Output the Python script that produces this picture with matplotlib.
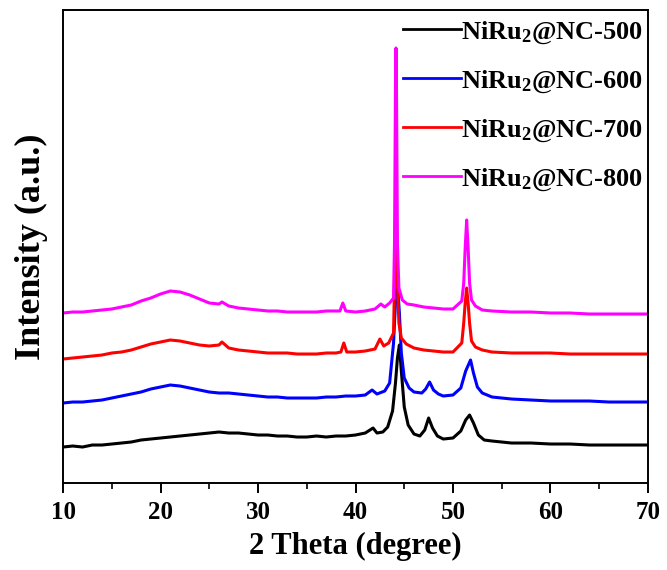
"""XRD patterns of the NiRu2@NC samples (500-800 C), stacked."""
import matplotlib
matplotlib.use("Agg")
import matplotlib.pyplot as plt
from matplotlib.ticker import MultipleLocator

plt.rcParams["font.family"] = ["Liberation Serif", "DejaVu Serif"]
plt.rcParams["font.weight"] = "bold"
plt.rcParams["mathtext.fontset"] = "custom"
plt.rcParams["mathtext.rm"] = "Liberation Serif:bold"
plt.rcParams["mathtext.bf"] = "Liberation Serif:bold"
plt.rcParams["mathtext.it"] = "Liberation Serif:bold"

# 2 theta (deg) / intensity (a.u., curves already offset)
x_500 = [10, 11, 12, 13, 14, 15, 16, 17, 18, 19, 20, 21, 22, 23, 24, 25, 26, 27, 28, 29,
         30, 31, 32, 33, 34, 35, 36, 37, 38, 39, 40, 41, 41.8, 42.2, 42.8, 43.3, 43.8,
         44.1, 44.3, 44.5, 44.7, 45.0, 45.4, 46.0, 46.6, 47.1, 47.5, 47.9, 48.4, 49, 50,
         50.8, 51.3, 51.7, 52.1, 52.6, 53.2, 54, 55, 56, 58, 60, 62, 64, 66, 68, 70]
y_500 = [36, 37, 36, 38, 38, 39, 40, 41, 43, 44, 45, 46, 47, 48, 49, 50, 51, 50, 50, 49,
         48, 48, 47, 47, 46, 46, 47, 46, 47, 47, 48, 50, 55, 50, 51, 56, 72,
         100, 125, 138, 112, 76, 58, 49, 47, 53, 65, 55, 47, 44, 45,
         52, 63, 68, 60, 48, 43, 42, 41, 40, 40, 39, 39, 38, 38, 38, 38]

x_600 = [10, 11, 12, 13, 14, 15, 16, 17, 18, 19, 20, 21, 22, 23, 24, 25, 26, 27, 28, 29,
         30, 31, 32, 33, 34, 35, 36, 37, 38, 39, 40, 41, 41.7, 42.2, 43.0, 43.5, 43.9,
         44.1, 44.3, 44.5, 44.7, 45.0, 45.5, 46, 46.8, 47.2, 47.6, 48.0, 48.5, 49, 50,
         50.8, 51.3, 51.8, 52.1, 52.5, 53, 54, 56, 58, 60, 62, 64, 66, 68, 70]
y_600 = [80, 81, 81, 82, 83, 85, 87, 89, 91, 94, 96, 98, 97, 95, 93, 91, 90, 90, 89, 88,
         87, 86, 86, 85, 85, 85, 85, 86, 86, 87, 87, 88, 93, 89, 92, 100, 140,
         180, 200, 170, 130, 105, 95, 91, 90, 94, 101, 93, 89, 87, 88,
         95, 112, 123, 110, 96, 90, 86, 84, 83, 82, 82, 82, 81, 81, 81]

x_700 = [10, 11, 12, 13, 14, 15, 16, 17, 18, 19, 20, 21, 22, 23, 24, 25, 26, 26.3, 27,
         28, 29, 30, 31, 32, 33, 34, 35, 36, 37, 38, 38.5, 38.8, 39.1, 40, 41, 42, 42.5,
         42.9, 43.4, 43.9, 44.0, 44.1, 44.15, 44.2, 44.3, 44.45, 44.7, 45.2, 46, 47, 48,
         49, 50, 50.9, 51.1, 51.25, 51.4, 51.55, 51.7, 51.9, 52.3, 53, 54, 56, 58, 60, 62,
         64, 66, 68, 70]
y_700 = [124, 125, 126, 127, 128, 130, 131, 133, 136, 139, 141, 143, 142, 140, 138, 137,
         138, 141, 135, 133, 132, 131, 130, 130, 130, 129, 129, 129, 130, 130, 131, 140,
         131, 131, 132, 134, 144, 137, 140, 150, 200, 270, 283, 270, 200, 160, 145, 139,
         135, 133, 132, 131, 131, 140, 160, 180, 195, 180, 160, 142, 136, 133, 131, 130,
         130, 130, 129, 129, 129, 129, 129]

x_800 = [10, 11, 12, 13, 14, 15, 16, 17, 18, 19, 20, 21, 22, 23, 24, 25, 26, 26.3, 27,
         28, 29, 30, 31, 32, 33, 34, 35, 36, 37, 38, 38.4, 38.7, 39.0, 40, 41, 42, 42.6,
         43.0, 43.5, 43.9, 44.0, 44.1, 44.15, 44.2, 44.3, 44.45, 44.8, 45.3, 46, 47, 48,
         49, 50, 50.9, 51.1, 51.25, 51.4, 51.55, 51.7, 51.9, 52.3, 53, 54, 56, 58, 60, 62,
         64, 66, 68, 70]
y_800 = [170, 171, 171, 172, 173, 174, 176, 178, 182, 185, 189, 192, 191, 188, 184, 180,
         179, 181, 177, 175, 174, 173, 172, 172, 171, 171, 171, 171, 172, 172, 172, 180,
         172, 171, 172, 174, 179, 176, 180, 185, 240, 400, 435, 400, 240, 195, 183, 179,
         178, 176, 175, 174, 174, 182, 200, 235, 263, 235, 200, 183, 177, 173, 172, 171,
         171, 170, 170, 169, 169, 169, 169]

labels = [r"NiRu$_\mathbf{2}$@NC-500", r"NiRu$_\mathbf{2}$@NC-600",
          r"NiRu$_\mathbf{2}$@NC-700", r"NiRu$_\mathbf{2}$@NC-800"]
colors = ["black", "#0000ff", "#ff0000", "#ff00ff"]

fig = plt.figure(figsize=(6.67, 5.70), dpi=100)
ax = fig.add_axes([0.0945, 0.1526, 0.877, 0.8299])

for xs, ys, lab, col in zip([x_500, x_600, x_700, x_800], [y_500, y_600, y_700, y_800],
                            labels, colors):
    ax.plot(xs, ys, color=col, lw=2.2, label=lab)

ax.set_xlim(10, 70)
ax.set_ylim(0, 473)
ax.xaxis.set_major_locator(MultipleLocator(10))
ax.xaxis.set_minor_locator(MultipleLocator(5))
ax.tick_params(axis="x", which="major", direction="out", length=7, width=1.4,
               labelsize=18, top=False, pad=6)
ax.tick_params(axis="x", which="minor", direction="out", length=4, width=1.2, top=False)
ax.set_yticks([])
for sp in ax.spines.values():
    sp.set_linewidth(1.4)

ax.set_xlabel("2 Theta (degree)", fontsize=22, fontweight="bold", labelpad=6)
ax.set_ylabel("Intensity (a.u.)", fontsize=26, fontweight="bold")
ax.yaxis.set_label_coords(-0.025, 0.5)

leg = ax.legend(loc="upper right", bbox_to_anchor=(1.012, 1.005), frameon=False,
                fontsize=19, handlelength=2.2, handletextpad=0.0, labelspacing=0.85,
                borderaxespad=0.05)
for h in leg.get_lines():
    h.set_linewidth(2.0)

fig.savefig("out.png", dpi=100)
